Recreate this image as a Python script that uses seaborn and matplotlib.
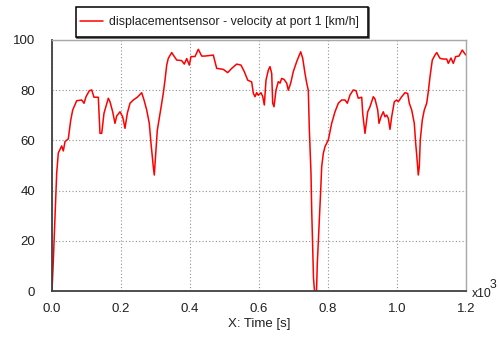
import numpy as np
import pandas as pd
import matplotlib
matplotlib.use("Agg")
import matplotlib.pyplot as plt
import seaborn as sns
from matplotlib.ticker import MultipleLocator, FuncFormatter
from matplotlib.patches import Rectangle

# time in seconds, velocity in km/h
time_s = [0, 3.8, 8.7, 11.6, 13.6, 18.3, 28.1, 32.8, 37.7, 47.2, 54.2, 60.0, 71.6, 86.1, 92.8,
          98.6, 108.1, 115.1, 121.7, 134.2, 139.1, 144.1, 150.7, 163.2, 168.1, 175.9, 182.6,
          187.5, 197.1, 204.9, 211.6, 218.3, 226.1, 235.7, 247.3, 260.0, 266.7, 274.5, 282.0,
          287.0, 293.6, 296.5, 301.4, 305.2, 311.0, 318.0, 322.6, 327.5, 332.5, 337.1, 347.0,
          351.6, 361.5, 375.9, 383.5, 390.4, 398.0, 402.9, 414.5, 424.1, 433.9, 443.5, 467.5,
          477.4, 496.5, 509.3, 520.9, 535.4, 547.8, 557.4, 567.3, 578.8, 583.5, 588.4, 593.3,
          598.0, 605.8, 610.7, 615.4, 620.3, 627.0, 631.9, 636.8, 639.7, 643.5, 649.3, 655.9,
          660.9, 665.8, 672.5, 680.3, 684.9, 691.9, 699.4, 709.3, 716.8, 720.9, 726.7, 733.3,
          738.3, 742.9, 745.8, 750.7, 752.8, 755.7, 758.0, 760.9, 766.7, 769.0, 774.8, 778.8,
          781.7, 786.4, 791.3, 800.9, 810.7, 820.3, 829.9, 839.7, 849.3, 856.0, 863.8, 873.3,
          881.2, 887.8, 897.7, 900.6, 907.2, 912.2, 915.1, 921.7, 931.3, 936.2, 944.1, 947.8,
          953.6, 960.3, 965.2, 970.1, 974.8, 979.7, 984.6, 992.2, 999.1, 1003.8, 1013.6, 1023.2,
          1031.0, 1035.7, 1042.6, 1050.1, 1054.2, 1057.1, 1061.7, 1064.6, 1067.5, 1073.3,
          1079.1, 1086.1, 1090.7, 1095.7, 1102.3, 1110.1, 1115.1, 1124.6, 1134.2, 1144.1,
          1148.7, 1156.5, 1163.2, 1170.1, 1179.7, 1189.3, 1195.1, 1200]
velocity = [0, 12, 29, 40, 47, 55, 57.8, 55.8, 59.5, 60.6, 68, 72.1, 75.8, 76.1, 74.8,
            77.4, 79.8, 80.1, 77.2, 77.2, 62.8, 62.8, 70.8, 76.8, 75.4, 71.4, 66.8,
            69.7, 71.4, 69.4, 64.8, 70.8, 74.8, 76.1, 77.2, 79, 76.1, 72.1, 66.8,
            58.8, 49.5, 46.2, 56, 64, 68.8, 74.8, 78.8, 84, 90, 92.7, 95,
            94, 92, 91.8, 90.4, 92.6, 90, 93.4, 93.4, 96.3, 93.6, 93.6, 94,
            88.7, 88.3, 87, 88.7, 90.4, 90, 87.4, 84, 83.3, 78.8, 77.4, 79,
            78, 79, 77.5, 74.1, 84, 88, 89.4, 86.7, 74.8, 73.4, 80, 83.4,
            82.8, 84.7, 84.3, 82.8, 80, 82.8, 87.4, 91.4, 94, 95.3, 92.7, 86.7,
            82.8, 80, 64.8, 47, 32, 17.6, 5, 0, 0, 11, 28, 40,
            49.5, 54.8, 57.5, 60.2, 66.8, 71.4, 74.8, 76.1, 76.1, 74.8, 78.1, 80.1,
            79.8, 76.8, 77.2, 70.8, 62.8, 68.1, 71.4, 73.4, 77.4, 76.5, 72.1, 66.8,
            69.4, 71.4, 69.4, 70.1, 68.8, 64.4, 69.4, 75.4, 76.1, 75.4, 77.4, 79,
            78.7, 74.8, 72.1, 66.8, 58.8, 54.2, 46.2, 49.5, 60.2, 68.1,
            72.1, 74.8, 79.4, 85.4, 92, 94, 95, 92.7, 92.4, 92.4,
            90.7, 92.8, 90.7, 93.4, 93.6, 96, 94.8, 94]

series_label = "displacementsensor - velocity at port 1 [km/h]"
x_label = "X: Time [s]"

df = pd.DataFrame({"t": time_s, "v": velocity})

sns.set_style("white")
plt.rcParams['font.family'] = ['Liberation Sans', 'DejaVu Sans']

fig = plt.figure(figsize=(4.99, 3.38), dpi=100)
ax = fig.add_axes([52/499, 47/338, 414/499, 251/338])

sns.lineplot(data=df, x="t", y="v", ax=ax, color="#ff0000", linewidth=1.1,
             estimator=None, sort=False, label=series_label)

ax.set_xlim(0, 1200)
ax.set_ylim(0, 100)
ax.xaxis.set_major_locator(MultipleLocator(200))
ax.xaxis.set_minor_locator(MultipleLocator(100))
ax.yaxis.set_major_locator(MultipleLocator(20))
ax.yaxis.set_minor_locator(MultipleLocator(10))
ax.xaxis.set_major_formatter(FuncFormatter(lambda v, p: f"{v/1000:.1f}"))

ax.grid(True, which="major", linestyle=(0, (1, 2)), color="#909090", linewidth=0.8)
ax.set_axisbelow(True)

for s in ["left", "bottom"]:
    ax.spines[s].set_color("#404040")
    ax.spines[s].set_linewidth(1.3)
for s in ["top", "right"]:
    ax.spines[s].set_color("#a8a8a8")
    ax.spines[s].set_linewidth(1.0)

ax.tick_params(axis="both", which="major", direction="out", length=7, width=1,
               color="#404040", labelsize=9.5, labelcolor="#202020")
ax.tick_params(axis="both", which="minor", direction="out", length=3.5, width=1,
               color="#404040")
ax.tick_params(axis="y", which="major", pad=5)
ax.tick_params(axis="x", which="major", pad=1.5)

ax.set_xlabel(x_label, fontsize=9.5, color="#202020", labelpad=2)
ax.set_ylabel("")

fig.text(471.5/499, 1 - 297/338, "x10", fontsize=8.8, color="#202020", ha="left", va="baseline")
fig.text(490/499, 1 - 288/338, "3", fontsize=8.8, color="#202020", ha="left", va="baseline")

# legend (text + handle), frame drawn separately for the exact box size
leg = ax.legend(loc="center left", bbox_to_anchor=(76/499, 1 - 22/338),
                bbox_transform=fig.transFigure, frameon=False,
                fontsize=8.9, handlelength=1.9, handletextpad=0.45,
                borderpad=0.3, borderaxespad=0)
for t in leg.get_texts():
    t.set_color("#202020")

fig.patches.append(Rectangle((77/499, 1 - 38/338), 292/499, 30/338,
                             transform=fig.transFigure, fill=False,
                             edgecolor="#505050", linewidth=1.2, zorder=-2))
fig.patches.append(Rectangle((76/499, 1 - 37/338), 292/499, 30/338,
                             transform=fig.transFigure, fill=True, facecolor="white",
                             edgecolor="#000000", linewidth=1.1, zorder=-1))

fig.savefig("out.png", dpi=100)
